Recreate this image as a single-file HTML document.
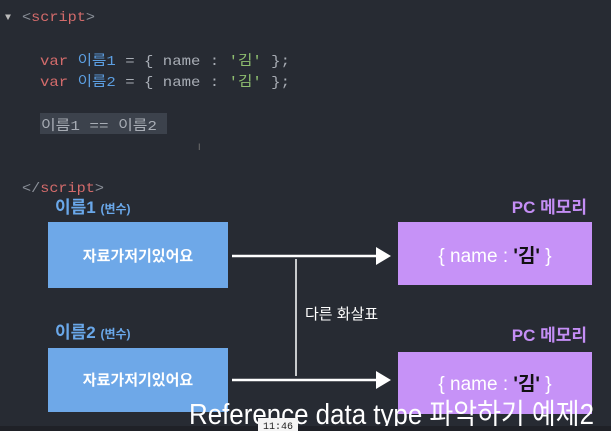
<!DOCTYPE html>
<html><head><meta charset="utf-8"><style>
html,body{margin:0;padding:0;background:#272b33;}
svg{display:block}
</style></head><body>
<svg width="611" height="431" xmlns="http://www.w3.org/2000/svg" font-family="'Liberation Sans','Noto Sans CJK KR',sans-serif">
<rect width="611" height="431" fill="#272b33"/>
<g font-family="'Liberation Mono','Noto Sans CJK KR',monospace" font-size="14">
<text x="5" y="20" fill="#bbb" font-size="10">▼</text>
<text x="22" y="21" fill="#8a8f98" textLength="73" lengthAdjust="spacingAndGlyphs">&lt;<tspan fill="#d36b6b">script</tspan>&gt;</text>
<text x="40" y="65" fill="#d36b6b" textLength="250" lengthAdjust="spacingAndGlyphs">var <tspan fill="#5c9ee0">이름1</tspan><tspan fill="#a8adb5"> = { name : </tspan><tspan fill="#8fbf70">'김'</tspan><tspan fill="#a8adb5"> };</tspan></text>
<text x="40" y="86" fill="#d36b6b" textLength="250" lengthAdjust="spacingAndGlyphs">var <tspan fill="#5c9ee0">이름2</tspan><tspan fill="#a8adb5"> = { name : </tspan><tspan fill="#8fbf70">'김'</tspan><tspan fill="#a8adb5"> };</tspan></text>
<rect x="40" y="113" width="127" height="21" fill="#3c424c"/>
<text x="41" y="130" fill="#a8adb5" textLength="116" lengthAdjust="spacingAndGlyphs">이름1 == 이름2</text>
<text x="22" y="192" fill="#8a8f98" textLength="82" lengthAdjust="spacingAndGlyphs">&lt;/<tspan fill="#d36b6b">script</tspan>&gt;</text>
</g>
<text x="198" y="150" fill="#777" font-size="9">I</text>
<text x="55" y="213" fill="#6aa8ea" font-size="17" font-weight="bold">이름1 <tspan font-size="12">(변수)</tspan></text>
<text x="55" y="338" fill="#6aa8ea" font-size="17" font-weight="bold">이름2 <tspan font-size="12">(변수)</tspan></text>
<text x="587" y="213" fill="#c48ef5" font-size="17" font-weight="bold" text-anchor="end">PC 메모리</text>
<text x="587" y="341" fill="#c48ef5" font-size="17" font-weight="bold" text-anchor="end">PC 메모리</text>
<rect x="48" y="222" width="180" height="66" fill="#6ea8e8"/>
<rect x="48" y="348" width="180" height="64" fill="#6ea8e8"/>
<text x="138" y="261" fill="#fff" font-size="15" font-weight="bold" text-anchor="middle">자료가저기있어요</text>
<text x="138" y="385" fill="#fff" font-size="15" font-weight="bold" text-anchor="middle">자료가저기있어요</text>
<rect x="398" y="222" width="194" height="63" fill="#c692f7"/>
<rect x="398" y="352" width="194" height="62" fill="#c692f7"/>
<text x="495" y="262" fill="#fff" font-size="19" text-anchor="middle">{ name : <tspan fill="#111" font-weight="bold">'김'</tspan> }</text>
<text x="495" y="390" fill="#fff" font-size="19" text-anchor="middle">{ name : <tspan fill="#111" font-weight="bold">'김'</tspan> }</text>
<line x1="232" y1="256" x2="378" y2="256" stroke="#fff" stroke-width="2.5"/>
<polygon points="376,247 391,256 376,265" fill="#fff"/>
<line x1="232" y1="380" x2="378" y2="380" stroke="#fff" stroke-width="2.5"/>
<polygon points="376,371 391,380 376,389" fill="#fff"/>
<line x1="296" y1="259" x2="296" y2="376" stroke="#fff" stroke-width="1.5"/>
<text x="305" y="319" fill="#fff" font-size="15">다른 화살표</text>
<text x="189" y="424" fill="#fff" font-size="29" textLength="405" lengthAdjust="spacingAndGlyphs">Reference data type 파악하기 예제2</text>
<rect x="0" y="426" width="611" height="5" fill="#1f2127"/>
<rect x="258" y="418" width="40" height="13" fill="#f4f4f4"/>
<text x="278" y="429" fill="#222" font-size="10" text-anchor="middle" font-family="'Liberation Mono',monospace">11:46</text>
</svg>
</body></html>
